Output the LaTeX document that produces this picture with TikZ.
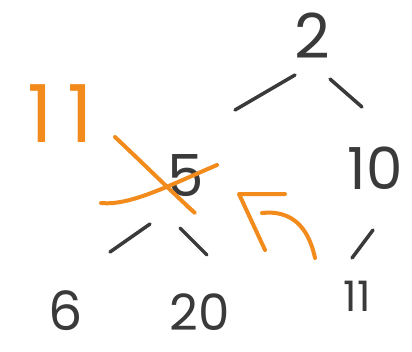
\documentclass[tikz,border=0pt]{standalone}
\usepackage{fontspec}
\setmainfont{Poppins}
\definecolor{ink}{HTML}{3A3A3A}
\definecolor{pen}{HTML}{F28A1C}
\tikzset{
  num/.style={text=ink, inner sep=0pt, font=\fontsize{#1}{#1}\selectfont},
  stroke/.style={draw=ink, line width=3.5pt, line cap=round},
  ostroke/.style={draw=pen, line width=4pt, line cap=round, line join=round}
}
\begin{document}
\begin{tikzpicture}[x=1pt,y=-1pt]
\useasboundingbox (0,0) rectangle (412,351);
% numbers
\node[num=62] (n2) at (312,36) {2};
\node[num=58] (n10) at (375,168) {10};
\node[num=42] (n11) at (357,296) {11};
\node[num=58] (n5) at (186,176) {5};
\node[num=54] (n6) at (66,311) {6};
\node[num=50] (n20) at (200,312) {20};
\node[num=80, text=pen] (o11) at (60,114) {1\kern14pt1};
% edges
\coordinate (a1) at (235,110); \coordinate (a2) at (295,75);
\coordinate (b1) at (330,79);  \coordinate (b2) at (362,107);
\coordinate (c1) at (352,258); \coordinate (c2) at (373,230);
\coordinate (d1) at (110,252); \coordinate (d2) at (150,224);
\coordinate (e1) at (180,228); \coordinate (e2) at (207,255);
\draw[stroke] (a1) -- (a2);
\draw[stroke] (b1) -- (b2);
\draw[stroke] (c1) -- (c2);
\draw[stroke] (d1) -- (d2);
\draw[stroke] (e1) -- (e2);
% orange cross over 5
\coordinate (x1) at (115,137); \coordinate (x2) at (195,213);
\coordinate (y1) at (101,203); \coordinate (y2) at (217,165);
\draw[ostroke] (x1) .. controls (150,170) and (175,195) .. (x2) -- (187,206);
\draw[ostroke] (y1) .. controls (130,206) and (170,185) .. (y2);
% orange arrow
\coordinate (t) at (239,194);
\coordinate (s) at (315,258);
\draw[ostroke] (s) .. controls (308,225) and (290,210) .. (262,213);
\draw[ostroke] (285,194) -- (t) -- (265,250);
\end{tikzpicture}
\end{document}
